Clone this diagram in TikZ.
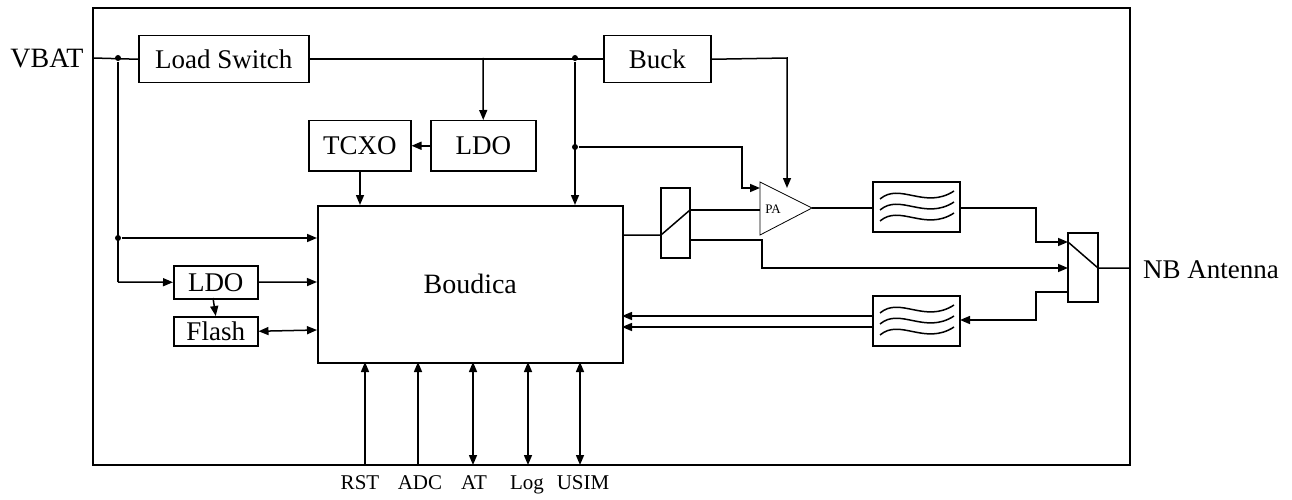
\documentclass[tikz,border=0pt]{standalone}
\usepackage{fontspec}
\setmainfont{Liberation Serif}
\usetikzlibrary{arrows.meta}
\begin{document}
\begin{tikzpicture}[x=1pt,y=-1pt,line width=1.5pt,
  box/.style={draw,minimum width=#1,minimum height=47,inner sep=0,font=\fontsize{27}{27}\selectfont,anchor=north west},
  ar/.style={-{Triangle[length=10,width=8]}},
  br/.style={{Triangle[length=10,width=8]}-{Triangle[length=10,width=8]}},
  dot/.style={circle,fill,inner sep=0,minimum size=6},
  lab/.style={font=\fontsize{21}{21}\selectfont}]
\useasboundingbox (0,0) rectangle (1292,500);
\draw (93,8) rectangle (1130,465);
\node[font=\fontsize{28}{28}\selectfont] (vbat) at (47,58) {VBAT};
\node[font=\fontsize{27}{27}\selectfont] (nb) at (1211,270) {NB Antenna};
\node[box=170] (ls) at (138,35) {Load Switch};
\node[box=107] (buck) at (603,35) {Buck};
\node[box=105,minimum height=50] (ldo) at (430,120) {LDO};
\node[box=102,minimum height=50] (tcxo) at (308,120) {TCXO};
\node[draw,minimum width=305,minimum height=157,anchor=north west,font=\fontsize{28}{28}\selectfont] (bou) at (317,205) {Boudica};
\node[box=84,minimum height=33] (ldo2) at (173,265) {LDO};
\node[box=84,minimum height=29] (fl) at (173,316) {Flash};
\node[dot] (d1) at (118,58) {};
\node[dot] (d2) at (575,58) {};
\node[dot] (d3) at (575,147) {};
\node[dot] (d4) at (118,238) {};
\coordinate (j1) at (483,58);
\draw (93,58) -- (ls.west);
\draw (ls.east) -- (buck.west);
\draw[ar] (j1) -- (ldo.north);
\draw[ar] (ldo.west) -- (tcxo.east);
\draw[ar] (360,170) -- (360,205);
\draw[ar] (d2) -- (575,205);
\draw (d1) -- (118,282);
\draw[ar] (d4) -- (317,238);
\draw[ar] (118,282) -- (ldo2.west);
\draw[ar] (ldo2.east) -- (317,282);
\draw[ar] (213,298) -- (fl.north);
\draw[br] (fl.east) -- (317,330);
\foreach \x/\s in {365/ar,418/ar,473/br,528/br,580/br}{
  \draw[\s] (\x,465) -- (\x,362);
}
\node[lab,anchor=base] (rst) at (360,489) {RST};
\node[lab,anchor=base] (adc) at (420,489) {ADC};
\node[lab,anchor=base] (at) at (474,489) {AT};
\node[lab,anchor=base] (log) at (527,489) {Log};
\node[lab,anchor=base] (usim) at (583,489) {USIM};
\draw[line width=0.8pt] (760,182) -- (812,208) -- (760,235) -- cycle;
\node[font=\fontsize{13}{13}\selectfont] (pa) at (773,209) {PA};
\draw[ar] (d3) -- (742,147) -- (742,188) -- (760,188);
\draw[ar] (buck.east) -- (787,58) -- (787,188);
\draw (661,188) rectangle (690,258);
\draw (622,235) -- (661,235) -- (690,210);
\draw (690,210) -- (760,210);
\draw[ar] (690,240) -- (762,240) -- (762,268) -- (1068,268);
\foreach \y in {182,296}{
  \draw (873,\y) rectangle (960,\y+50);
  \foreach \k in {14,25,36}{
   \draw (880,\y+\k+3) .. controls (900,\y+\k-14) and (925,\y+\k+14) .. (954,\y+\k-5);
  }
}
\draw (812,208) -- (873,208);
\draw[ar] (960,208) -- (1036,208) -- (1036,242) -- (1068,242);
\draw (1068,233) rectangle (1098,302);
\draw (1068,242) -- (1098,268) -- (1130,268);
\draw[ar] (1068,292) -- (1036,292) -- (1036,320) -- (960,320);
\draw[ar] (873,316) -- (622,316);
\draw[ar] (873,327) -- (622,327);
\end{tikzpicture}
\end{document}
